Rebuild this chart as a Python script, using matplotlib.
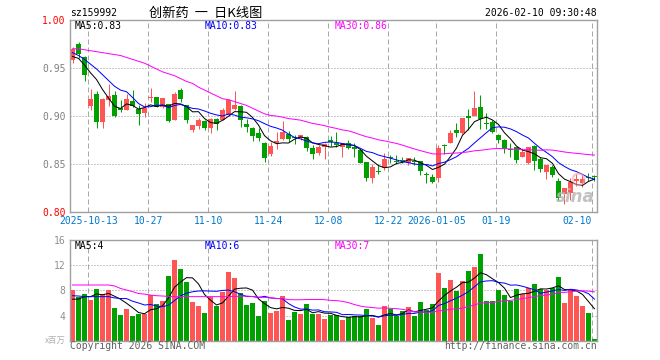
import matplotlib
matplotlib.use("Agg")
import matplotlib.pyplot as plt
import numpy as np
import pandas as pd

# ---------------- data ----------------
opens = [0.958, 0.975, 0.961, 0.910, 0.923, 0.894, 0.917, 0.922, 0.908, 0.906,
         0.916, 0.907, 0.9035, 0.9188, 0.9194, 0.909, 0.9125, 0.8958, 0.9271, 0.9115,
         0.8854, 0.8896, 0.8948, 0.8872, 0.8965, 0.8958, 0.901, 0.9069, 0.9104, 0.8917,
         0.888, 0.8826, 0.872, 0.860, 0.8715, 0.876, 0.8816, 0.878, 0.8767, 0.8778,
         0.867, 0.861, 0.8674, 0.875, 0.8715, 0.8674, 0.8715, 0.868, 0.8646, 0.852,
         0.835, 0.8427, 0.8455, 0.857, 0.8535, 0.8535, 0.8507, 0.8535, 0.8535, 0.8396,
         0.8368, 0.8351, 0.8700, 0.8715, 0.8854, 0.8826, 0.9000, 0.9000, 0.9097, 0.8931,
         0.8941, 0.8802, 0.8750, 0.8660, 0.8674, 0.8576, 0.8507, 0.8688, 0.8552, 0.8420,
         0.8472, 0.8326, 0.8184, 0.8201, 0.8323, 0.8306, 0.8361, 0.8372]
highs = [0.972, 0.977, 0.962, 0.928, 0.926, 0.919, 0.933, 0.926, 0.917, 0.923,
         0.927, 0.9115, 0.914, 0.929, 0.9194, 0.9184, 0.913, 0.925, 0.9288, 0.9115,
         0.8906, 0.8976, 0.8958, 0.8976, 0.8976, 0.908, 0.918, 0.926, 0.911, 0.8966,
         0.889, 0.887, 0.8725, 0.873, 0.883, 0.895, 0.884, 0.880, 0.8806, 0.879,
         0.8698, 0.8698, 0.8715, 0.879, 0.883, 0.8715, 0.875, 0.872, 0.8653, 0.852,
         0.850, 0.8497, 0.861, 0.8594, 0.8594, 0.8576, 0.8559, 0.8576, 0.8535, 0.842,
         0.8396, 0.8698, 0.8705, 0.8854, 0.8924, 0.8983, 0.9070, 0.9260, 0.9219, 0.9035,
         0.8958, 0.8813, 0.8757, 0.8722, 0.8674, 0.8663, 0.8674, 0.8698, 0.8576, 0.8490,
         0.8490, 0.8351, 0.8247, 0.8351, 0.8392, 0.8385, 0.8403, 0.8385]
lows = [0.955, 0.960, 0.936, 0.906, 0.888, 0.887, 0.910, 0.899, 0.904, 0.906,
        0.909, 0.891, 0.899, 0.915, 0.909, 0.908, 0.894, 0.896, 0.9149, 0.8924,
        0.8837, 0.8861, 0.8854, 0.8826, 0.8854, 0.8958, 0.900, 0.906, 0.8882, 0.8836,
        0.874, 0.874, 0.852, 0.858, 0.866, 0.8745, 0.873, 0.871, 0.875, 0.864,
        0.855, 0.859, 0.855, 0.8687, 0.8674, 0.8576, 0.866, 0.857, 0.8514, 0.8326,
        0.8306, 0.840, 0.844, 0.851, 0.850, 0.851, 0.849, 0.849, 0.8385, 0.830,
        0.830, 0.8316, 0.8604, 0.8715, 0.8778, 0.8813, 0.8854, 0.9000, 0.8861, 0.8861,
        0.8819, 0.8722, 0.8611, 0.8576, 0.8507, 0.8576, 0.8500, 0.8438, 0.8420, 0.8340,
        0.8361, 0.8118, 0.8083, 0.8125, 0.8271, 0.8264, 0.8326, 0.8326]
closes = [0.970, 0.965, 0.943, 0.918, 0.894, 0.918, 0.921, 0.900, 0.906, 0.918,
          0.910, 0.902, 0.908, 0.9201, 0.909, 0.9184, 0.8951, 0.9229, 0.9174, 0.8958,
          0.8906, 0.8958, 0.8872, 0.8965, 0.8917, 0.9063, 0.9167, 0.9115, 0.8958, 0.889,
          0.8795, 0.8767, 0.8566, 0.869, 0.874, 0.8837, 0.876, 0.8767, 0.8806, 0.867,
          0.860, 0.8674, 0.871, 0.8726, 0.8698, 0.8715, 0.8663, 0.866, 0.8514, 0.835,
          0.8472, 0.842, 0.855, 0.856, 0.8524, 0.853, 0.8559, 0.8524, 0.843, 0.8385,
          0.8316, 0.8670, 0.8690, 0.8826, 0.8826, 0.8983, 0.8983, 0.9087, 0.8965, 0.8920,
          0.8837, 0.8750, 0.8653, 0.8650, 0.8542, 0.8628, 0.8674, 0.8535, 0.8448, 0.8490,
          0.8385, 0.8142, 0.8247, 0.8316, 0.8340, 0.8340, 0.8351, 0.8365]
volumes = [8.05, 7.0, 7.4, 6.5, 8.2, 7.4, 8.05, 5.2, 4.1, 5.0,
           3.9, 4.2, 4.2, 7.3, 5.8, 6.3, 10.3, 12.8, 11.4, 9.3,
           6.1, 5.5, 4.4, 6.9, 5.5, 7.7, 10.9, 10.0, 7.6, 5.7,
           6.0, 3.9, 6.3, 4.4, 4.7, 7.1, 3.3, 4.6, 4.2, 5.8,
           4.3, 4.2, 3.4, 4.1, 4.1, 3.3, 3.7, 3.9, 3.9, 5.0,
           3.6, 2.5, 5.5, 5.0, 3.9, 4.7, 5.4, 3.9, 6.1, 4.9,
           5.8, 10.8, 8.4, 9.6, 7.9, 9.5, 11.1, 11.7, 13.8, 6.3,
           6.3, 8.05, 7.3, 6.3, 8.2, 7.4, 8.4, 9.0, 8.2, 8.05,
           8.3, 10.1, 6.0, 8.05, 7.1, 5.5, 4.45, 0.26]

# moving-average values before a full window exists
ma5_head = [0.962, 0.960, 0.953, 0.945]
ma10_head = [0.966, 0.963, 0.959, 0.954, 0.949, 0.943, 0.937, 0.931, 0.927]
ma30_head = [0.970, 0.970, 0.969, 0.968, 0.967, 0.966, 0.965, 0.964, 0.963, 0.961,
             0.959, 0.957, 0.955, 0.952, 0.949, 0.946, 0.944, 0.942, 0.939, 0.936,
             0.934, 0.930, 0.927, 0.924, 0.921, 0.918, 0.917, 0.915, 0.913]
vma5_head = [6.6, 6.6, 7.0, 7.0]
vma10_head = [7.15, 7.1, 7.0, 7.0, 7.0, 7.0, 7.0, 6.8, 6.7]
vma30_head = [8.85, 8.85, 8.85, 8.85, 8.85, 8.85, 8.85, 8.7, 8.3, 8.05,
              7.8, 7.5, 7.4, 7.25, 7.15, 7.1, 7.05, 7.0, 7.0, 7.0,
              7.0, 7.0, 7.0, 7.0, 7.0, 7.0, 7.0, 7.05, 7.05]

tick_index = [3, 13, 23, 33, 43, 53, 61, 71, 87]
tick_labels = ["2025-10-13", "10-27", "11-10", "11-24", "12-08", "12-22",
               "2026-01-05", "01-19", "02-10"]
price_ticks = [0.80, 0.85, 0.90, 0.95, 1.00]
vol_ticks = [4, 8, 12, 16]

code_text = "sz159992"
title_text = "创新药  一  日K线图"
time_text = "2026-02-10 09:30:48"
legend_price = ["MA5:0.83", "MA10:0.83", "MA30:0.86"]
legend_vol = ["MA5:4", "MA10:6", "MA30:7"]
unit_text = "x百万"
copy_left = "Copyright 2026 SINA.COM"
copy_right = "http://finance.sina.com.cn"

# ---------------- styling ----------------
RED = "#ff5555"
GREEN = "#00a000"
MA_COLORS = ["#000000", "#0000ff", "#ff00ff"]
GRID = "#a8a8a8"
SPINE = "#a0a0a0"
MONO = "DejaVu Sans Mono"
FS = 7
PX = 0.72  # one pixel in points at 100 dpi

W, H = 660, 360
fig = plt.figure(figsize=(W / 100, H / 100), dpi=100)


def rect(l, t, r, b):
    return [l / W, 1 - b / H, (r - l) / W, (b - t) / H]


ax = fig.add_axes(rect(70, 20, 597, 212))
axv = fig.add_axes(rect(70, 240, 597, 340.7))

n = len(closes)
x = np.arange(n)
o = np.array(opens)
c = np.array(closes)
hi = np.array(highs)
lo = np.array(lows)
v = np.array(volumes)
up = c >= o
cols = np.where(up, RED, GREEN)


def moving(arr, win, head):
    m = pd.Series(arr).rolling(win).mean().to_numpy()
    m[:len(head)] = head
    return m


ma_p = [moving(c, 5, ma5_head), moving(c, 10, ma10_head), moving(c, 30, ma30_head)]
ma_v = [moving(v, 5, vma5_head), moving(v, 10, vma10_head), moving(v, 30, vma30_head)]

for a in (ax, axv):
    a.set_xlim(-0.42, n - 0.58)
    for s in a.spines.values():
        s.set_color(SPINE)
        s.set_linewidth(1.0)
    for ti in tick_index:
        a.axvline(ti - 0.38, color=GRID, lw=PX, linestyle=(0, (5, 3)), zorder=0)

# price panel
ax.set_ylim(0.80, 1.00)
for yv in price_ticks[1:-1]:
    ax.axhline(yv, color="#999999", lw=PX, linestyle=(0, (1, 2)), zorder=0)
ax.vlines(x, lo, hi, colors=cols, lw=PX, zorder=2)
ax.bar(x, np.maximum(np.abs(c - o), 0.0007), bottom=np.minimum(o, c), width=0.83,
       color=cols, linewidth=0, zorder=2)
for m, col in zip(ma_p, MA_COLORS):
    ax.plot(x, m, color=col, lw=PX, zorder=3)

ax.set_yticks(price_ticks)
ax.set_yticklabels([f"{t:.2f}" for t in price_ticks], fontfamily=MONO, fontsize=FS)
for i, lab in enumerate(ax.get_yticklabels()):
    lab.set_color("#ff0000" if i in (0, len(price_ticks) - 1) else "#808080")
ax.set_xticks([t - 0.38 for t in tick_index])
ax.set_xticklabels(tick_labels, fontfamily=MONO, fontsize=FS, color="#0077cc")
ax.get_xticklabels()[-1].set_horizontalalignment("right")
ax.tick_params(axis="both", length=0)
ax.tick_params(axis="y", pad=3.2)
ax.tick_params(axis="x", pad=3.0)

lx = [0.0095, 0.256, 0.503]
for t, col, xx in zip(legend_price, MA_COLORS, lx):
    ax.text(xx, 0.969, t, transform=ax.transAxes, fontfamily=MONO, fontsize=FS,
            color=col, ha="left", va="center", zorder=5)

# sina watermark
ax.text(0.995, 0.03, "sina", transform=ax.transAxes, ha="right", va="bottom",
        fontsize=12, fontstyle="italic", fontweight="bold", color="#b8b8b8",
        alpha=0.85, zorder=4)
ax.scatter([0.965], [0.17], s=70, transform=ax.transAxes, facecolors="none",
           edgecolors="#f4a0a0", linewidths=1.5, alpha=0.6, zorder=4)

# volume panel
axv.set_ylim(0, 16)
for yv in vol_ticks[:-1]:
    axv.axhline(yv, color="#999999", lw=PX, linestyle=(0, (1, 2)), zorder=0)
axv.bar(x, v, width=0.83, color=cols, linewidth=0, zorder=2)
for m, col in zip(ma_v, MA_COLORS):
    axv.plot(x, m, color=col, lw=PX, zorder=3)
axv.set_yticks(vol_ticks)
axv.set_yticklabels([str(t) for t in vol_ticks], fontfamily=MONO, fontsize=FS,
                    color="#909090")
axv.set_xticks([])
axv.tick_params(axis="both", length=0)
axv.tick_params(axis="y", pad=3.2)
for t, col, xx in zip(legend_vol, MA_COLORS, lx):
    axv.text(xx, 0.94, t, transform=axv.transAxes, fontfamily=MONO, fontsize=FS,
             color=col, ha="left", va="center", zorder=5)
axv.text(-0.008, 0.0, unit_text, transform=axv.transAxes, ha="right", va="center",
         fontfamily=["Noto Sans CJK SC", "DejaVu Sans"], fontsize=6, color="#b0b0b0")

# header and footer
ax.text(0.0, 1.0 + 7 / 192, code_text, transform=ax.transAxes, ha="left",
        va="center", fontfamily=MONO, fontsize=FS, color="#000000")
ax.text(0.258, 1.0 + 7 / 192, title_text, transform=ax.transAxes, ha="center",
        va="center", fontfamily=["Noto Sans CJK SC", "DejaVu Sans"], fontsize=9.5,
        color="#000000")
ax.text(1.0, 1.0 + 7 / 192, time_text, transform=ax.transAxes, ha="right",
        va="center", fontfamily=MONO, fontsize=FS, color="#000000")
axv.text(0.0, -5.5 / 100.7, copy_left, transform=axv.transAxes, ha="left",
         va="center", fontfamily=MONO, fontsize=FS, color="#606060")
axv.text(1.0, -5.5 / 100.7, copy_right, transform=axv.transAxes, ha="right",
         va="center", fontfamily=MONO, fontsize=FS, color="#606060")

fig.savefig("out.png", dpi=100, facecolor="white")
